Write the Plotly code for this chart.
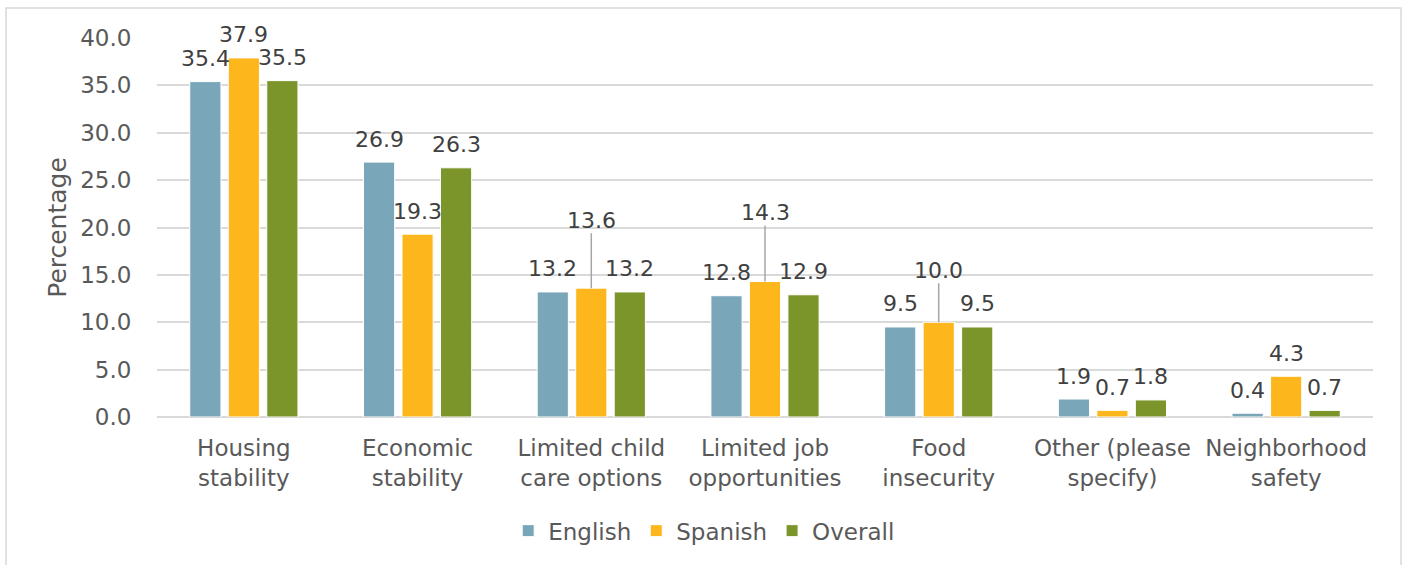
import plotly.graph_objects as go

categories = ["Housing<br>stability", "Economic<br>stability", "Limited child<br>care options",
              "Limited job<br>opportunities", "Food<br>insecurity", "Other (please<br>specify)",
              "Neighborhood<br>safety"]
english = [35.4, 26.9, 13.2, 12.8, 9.5, 1.9, 0.4]
spanish = [37.9, 19.3, 13.6, 14.3, 10.0, 0.7, 4.3]
overall = [35.5, 26.3, 13.2, 12.9, 9.5, 1.8, 0.7]
series_names = ["English", "Spanish", "Overall"]
series_colors = ["#7AA6BA", "#FDB71D", "#7B952B"]
# Spanish labels pulled up with a leader line (category index -> pixel lift)
leader_lift = {2: 68, 3: 69, 4: 52}

FONT = "DejaVu Sans"
W, H = 1404, 565
L, R, T, B = 157, 31, 38, 148
pw, ph = W - L - R, H - T - B

fig = go.Figure()
for name, vals, col in zip(series_names, [english, spanish, overall], series_colors):
    fig.add_trace(go.Bar(x=list(range(len(categories))), y=vals, name=name,
                         marker=dict(color=col, line=dict(color="white", width=1))))

bargap, groupgap = 0.335, 0.19
slot = (1 - bargap) / 3
annotations = []
for s, vals in enumerate([english, spanish, overall]):
    off = (s - 1) * slot
    for i, v in enumerate(vals):
        txt = f"{v:.1f}"
        if s == 1 and i in leader_lift:
            annotations.append(dict(x=i + off, y=v, xref="x", yref="y", text=txt,
                                    showarrow=True, arrowhead=0, arrowwidth=1.5,
                                    arrowcolor="#A6A6A6", ax=0, ay=-leader_lift[i],
                                    standoff=0, borderpad=0,
                                    font=dict(family=FONT, size=22, color="#404040")))
        else:
            annotations.append(dict(x=i + off, y=v, xref="x", yref="y", text=txt,
                                    showarrow=False, yanchor="middle", yshift=23,
                                    font=dict(family=FONT, size=22, color="#404040")))

fig.update_layout(
    width=W, height=H,
    margin=dict(l=L, r=R, t=T, b=B),
    paper_bgcolor="white", plot_bgcolor="white",
    barmode="group", bargap=bargap, bargroupgap=groupgap,
    font=dict(family=FONT, size=23, color="#595959"),
    annotations=annotations,
    showlegend=True,
    legend=dict(orientation="h", x=0.45, xanchor="center", y=-0.3, yanchor="middle",
                font=dict(family=FONT, size=23, color="#595959"), traceorder="normal"),
    xaxis=dict(tickmode="array", tickvals=list(range(len(categories))), ticktext=categories,
               range=[-0.5, len(categories) - 0.5], showgrid=False, showline=False,
               zeroline=False, ticks="outside", ticklen=10, tickcolor="rgba(0,0,0,0)",
               tickfont=dict(family=FONT, size=23, color="#595959")),
    yaxis=dict(range=[0, 40], dtick=5, tickformat=".1f", showgrid=True,
               gridcolor="#D9D9D9", gridwidth=1.5, zeroline=True, zerolinecolor="#D9D9D9",
               zerolinewidth=1.5, showline=False, ticks="outside", ticklen=20,
               tickcolor="rgba(0,0,0,0)",
               tickfont=dict(family=FONT, size=23, color="#595959"),
               title=dict(text="Percentage", font=dict(family=FONT, size=25, color="#595959"),
                          standoff=6)),
    shapes=[dict(type="rect", xref="paper", yref="paper",
                 x0=(6 - L) / pw, x1=(1401 - L) / pw,
                 y0=-(H + 10 - (H - B)) / ph, y1=(H - B - 8) / ph,
                 line=dict(color="#D9D9D9", width=1.5), fillcolor="rgba(0,0,0,0)", layer="below")],
)

fig.write_html("out.html", config={"displayModeBar": False},
               post_script="document.body.style.margin='0px';")
